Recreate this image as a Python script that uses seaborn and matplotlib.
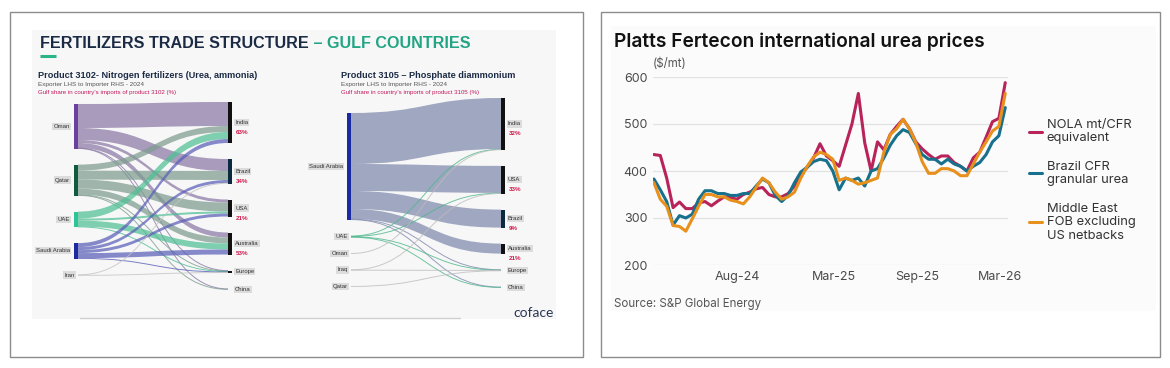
"""
Gulf fertilizer trade structure (Sankey) next to Platts urea price lines
"""

import numpy as np
import pandas as pd
import matplotlib.pyplot as plt
import seaborn as sns
from matplotlib.path import Path
from matplotlib.patches import PathPatch, Rectangle

# ---- product 3102: nitrogen fertilizers, exporter -> importer ----
n_sources = ['Oman', 'Qatar', 'UAE', 'Saudi Arabia', 'Iran']
n_targets = ['India', 'Brazil', 'USA', 'Australia', 'Europe', 'China']
n_shares = ['63%', '34%', '21%', '53%', '', '']
n_flow_src = ['Oman', 'Oman', 'Oman', 'Oman', 'Oman', 'Oman',
              'Qatar', 'Qatar', 'Qatar', 'Qatar', 'Qatar', 'Qatar',
              'UAE', 'UAE', 'UAE', 'UAE',
              'Saudi Arabia', 'Saudi Arabia', 'Saudi Arabia', 'Saudi Arabia', 'Saudi Arabia',
              'Iran', 'Iran']
n_flow_tgt = ['India', 'Brazil', 'USA', 'Australia', 'Europe', 'China',
              'India', 'Brazil', 'USA', 'Australia', 'Europe', 'China',
              'India', 'USA', 'Australia', 'Europe',
              'India', 'Brazil', 'USA', 'Australia', 'Europe',
              'Brazil', 'Europe']
n_flow_val = [24, 12, 3, 5, 0.3, 0.3,
              6, 9, 9, 6, 0.5, 0.5,
              7, 2, 6, 0.5,
              4, 3, 3, 5, 0.5,
              0.5, 0.5]

# ---- product 3105: phosphate diammonium ----
p_sources = ['Saudi Arabia', 'UAE', 'Oman', 'Iraq', 'Qatar']
p_targets = ['India', 'USA', 'Brazil', 'Australia', 'Europe', 'China']
p_shares = ['32%', '33%', '9%', '21%', '', '']
p_flow_src = ['Saudi Arabia', 'Saudi Arabia', 'Saudi Arabia', 'Saudi Arabia', 'Saudi Arabia', 'Saudi Arabia',
              'UAE', 'UAE', 'UAE', 'UAE', 'Oman', 'Iraq', 'Iraq', 'Qatar']
p_flow_tgt = ['India', 'USA', 'Brazil', 'Australia', 'Europe', 'China',
              'India', 'USA', 'Europe', 'China', 'India', 'USA', 'Europe', 'Europe']
p_flow_val = [51, 27, 18, 10, 0.4, 0.4,
              0.5, 0.4, 0.3, 0.3, 0.4, 0.3, 0.3, 0.3]

# ---- Platts Fertecon urea prices ($/mt), fortnightly ----
price_dates = pd.date_range('2024-02-01', periods=56, freq='14D')
nola = [435, 433, 385, 322, 334, 320, 320, 332, 335, 326,
        336, 345, 343, 340, 350, 355, 362, 365, 350, 345,
        345, 352, 368, 392, 408, 428, 458, 432, 422, 410,
        455, 500, 565, 460, 400, 462, 445, 478, 495, 510,
        490, 462, 447, 435, 425, 432, 432, 418, 410, 400,
        428, 440, 472, 505, 512, 588]
brazil = [383, 360, 335, 285, 305, 300, 308, 340, 358, 358,
          352, 352, 348, 348, 352, 352, 368, 383, 375, 348,
          335, 348, 375, 398, 408, 420, 425, 422, 400, 360,
          385, 380, 385, 368, 400, 405, 428, 455, 475, 488,
          482, 458, 435, 425, 425, 415, 425, 415, 410, 400,
          410, 418, 435, 462, 475, 535]
mideast = [375, 340, 325, 284, 282, 272, 298, 325, 350, 350,
           345, 345, 338, 335, 330, 345, 365, 385, 375, 355,
           340, 345, 355, 385, 410, 430, 440, 435, 425, 380,
           385, 380, 372, 375, 380, 385, 440, 478, 490, 510,
           490, 460, 420, 395, 395, 405, 405, 400, 390, 390,
           415, 440, 462, 485, 495, 565]
series_names = ['NOLA mt/CFR\nequivalent', 'Brazil CFR\ngranular urea',
                'Middle East\nFOB excluding\nUS netbacks']
tick_dates = pd.to_datetime(['2024-08-01', '2025-03-01', '2025-09-01', '2026-03-01'])
tick_labels = ['Aug-24', 'Mar-25', 'Sep-25', 'Mar-26']

W, H = 1170, 368
SLIDE_FONT = 'Liberation Sans'


def draw_sankey(ax, sources, targets, shares, src, tgt, val, x0, x1, top0, top1,
                src_colors, link_colors, tgt_colors, gap=16, bar_w=4):
    out_tot = [sum(v for s, v in zip(src, val) if s == n) for n in sources]
    in_tot = [sum(v for t, v in zip(tgt, val) if t == n) for n in targets]

    def stack(totals, top):
        ys, y = [], top
        for h in totals:
            ys.append(y)
            y += h + gap
        return ys

    y_src = dict(zip(sources, stack(out_tot, top0)))
    y_tgt = dict(zip(targets, stack(in_tot, top1)))
    off_src, off_tgt = dict(y_src), dict(y_tgt)
    idx = range(len(val))
    ys_link, yt_link = {}, {}
    for k in sorted(idx, key=lambda k: (sources.index(src[k]), targets.index(tgt[k]))):
        ys_link[k] = off_src[src[k]]
        off_src[src[k]] += val[k]
    for k in sorted(idx, key=lambda k: (targets.index(tgt[k]), sources.index(src[k]))):
        yt_link[k] = off_tgt[tgt[k]]
        off_tgt[tgt[k]] += val[k]

    xm = (x0 + x1) / 2
    for k in idx:
        v, ys, yt = val[k], ys_link[k], yt_link[k]
        col = link_colors.get(src[k], '#bdbdbd')
        if v < 1.5:
            verts = [(x0, ys + v / 2), (xm, ys + v / 2), (xm, yt + v / 2), (x1, yt + v / 2)]
            path = Path(verts, [Path.MOVETO, Path.CURVE4, Path.CURVE4, Path.CURVE4])
            ax.add_patch(PathPatch(path, fc='none', ec=col, lw=0.7, alpha=0.8))
        else:
            verts = [(x0, ys), (xm, ys), (xm, yt), (x1, yt), (x1, yt + v),
                     (xm, yt + v), (xm, ys + v), (x0, ys + v), (x0, ys)]
            codes = [Path.MOVETO, Path.CURVE4, Path.CURVE4, Path.CURVE4, Path.LINETO,
                     Path.CURVE4, Path.CURVE4, Path.CURVE4, Path.CLOSEPOLY]
            ax.add_patch(PathPatch(Path(verts, codes), fc=col, ec='none', alpha=0.72))

    lbl = dict(fontsize=4.3, color='#333333', family=SLIDE_FONT, va='center',
               bbox=dict(fc='#dcdcdc', ec='none', pad=0.8))
    for n, h in zip(sources, out_tot):
        yc = y_src[n] + h / 2
        has_bar = h >= 2
        if has_bar:
            ax.add_patch(Rectangle((x0 - bar_w, y_src[n]), bar_w, h, fc=src_colors[n], ec='none'))
        ax.text(x0 - (bar_w + 4 if has_bar else 3), yc, n, ha='right', **lbl)
    for n, h, sh in zip(targets, in_tot, shares):
        yc = y_tgt[n] + h / 2
        if h >= 2:
            ax.add_patch(Rectangle((x1, y_tgt[n]), bar_w, h, fc=tgt_colors.get(n, '#111111'), ec='none'))
        ax.text(x1 + bar_w + 3, yc, n, ha='left', **lbl)
        if sh:
            ax.text(x1 + bar_w + 4, yc + 10, sh, ha='left', va='center', fontsize=4.5,
                    color='#d0184c', weight='bold', family=SLIDE_FONT)


sns.set_theme(style='white')
plt.rcParams['font.family'] = ['Inter', 'DejaVu Sans']

fig = plt.figure(figsize=(W / 100, H / 100), dpi=100)
bg = fig.add_axes([0, 0, 1, 1])
bg.set_xlim(0, W)
bg.set_ylim(H, 0)
bg.axis('off')

# panel frames
bg.add_patch(Rectangle((10, 12), 573, 345, fc='white', ec='#8c8c8c', lw=1.0))
bg.add_patch(Rectangle((601, 12), 559, 345, fc='white', ec='#8c8c8c', lw=1.0))

# ---- left slide ----
bg.add_patch(Rectangle((32, 30), 524, 289, fc='#f7f7f7', ec='none'))
bg.plot([80, 460], [318, 318], color='#cfcfcf', lw=1.0)
t1 = bg.text(40, 43, 'FERTILIZERS TRADE STRUCTURE', fontsize=11.6, weight='bold',
             color='#1c2b45', va='center', family=SLIDE_FONT)
bg.annotate(' \u2013 GULF COUNTRIES', xy=(1, 0), xycoords=t1, va='bottom', ha='left',
            fontsize=11.6, weight='bold', color='#22a584', family=SLIDE_FONT)
bg.plot([40, 56], [56, 56], color='#2bb38a', lw=2.2, solid_capstyle='butt')

for x, head, sub, share in [(38, 'Product 3102- Nitrogen fertilizers (Urea, ammonia)', 'Exporter LHS to Importer RHS - 2024',
                             "Gulf share in country's imports of product 3102 (%)"),
                            (341, 'Product 3105 \u2013 Phosphate diammonium', 'Exporter LHS to Importer RHS - 2024',
                             "Gulf share in country's imports of product 3105 (%)")]:
    bg.text(x, 75, head, fontsize=6.6, weight='bold', color='#1c2b45', va='center', family=SLIDE_FONT)
    bg.text(x, 84.5, sub, fontsize=4.6, color='#555555', va='center', family=SLIDE_FONT)
    bg.text(x, 92.5, share, fontsize=4.4, color='#c2185b', va='center', family=SLIDE_FONT)

draw_sankey(bg, n_sources, n_targets, n_shares, n_flow_src, n_flow_tgt, n_flow_val,
            x0=78, x1=228, top0=104, top1=102,
            src_colors={'Oman': '#6b3fa0', 'Qatar': '#0e5b3f', 'UAE': '#2ec497', 'Saudi Arabia': '#1b2aa0'},
            link_colors={'Oman': '#8a78a6', 'Qatar': '#7d9c8e', 'UAE': '#4fbf95',
                         'Saudi Arabia': '#5a5fb8', 'Iran': '#c4c4c4'},
            tgt_colors={'Brazil': '#0b2a40'})
draw_sankey(bg, p_sources, p_targets, p_shares, p_flow_src, p_flow_tgt, p_flow_val,
            x0=351, x1=501, top0=113, top1=98,
            src_colors={'Saudi Arabia': '#1b2aa0'},
            link_colors={'Saudi Arabia': '#7f88ad', 'UAE': '#4db88c'},
            tgt_colors={'Brazil': '#0b2a40'})
bg.text(534, 313, 'coface', fontsize=10, color='#2a3656', ha='center', va='center',
        family='Lato')

# ---- right panel: urea prices ----
bg.add_patch(Rectangle((611, 26), 545, 285, fc='#fbfbfb', ec='none'))
bg.text(614, 42, 'Platts Fertecon international urea prices', fontsize=13.8,
        weight='semibold', color='#111111', va='center')
bg.text(653, 64, '($/mt)', fontsize=8.3, color='#555555', va='center')
bg.text(614, 304, 'Source: S&P Global Energy', fontsize=8.3, color='#555555', va='center')

prices = pd.DataFrame({
    'date': np.tile(price_dates, 3),
    'price': nola + brazil + mideast,
    'series': np.repeat(series_names, len(price_dates)),
})
palette = dict(zip(series_names, ['#b8235a', '#17708c', '#e8901c']))

ax = fig.add_axes([653 / W, 1 - 265 / H, 355 / W, 188 / H])
ax.set_facecolor('none')
sns.lineplot(data=prices, x='date', y='price', hue='series', palette=palette,
             linewidth=2.2, ax=ax)
ax.set_xlim(price_dates[0] - pd.Timedelta(days=2), price_dates[-1] + pd.Timedelta(days=6))
ax.set_ylim(200, 600)
ax.set_yticks([200, 300, 400, 500, 600])
ax.set_xticks(tick_dates)
ax.set_xticklabels(tick_labels)
ax.set_xlabel('')
ax.set_ylabel('')
ax.grid(axis='y', color='#e2e2e2', lw=0.9)
ax.grid(axis='x', visible=False)
sns.despine(ax=ax, left=True, bottom=True)
ax.tick_params(axis='both', length=0, labelsize=9, colors='#4a4a4a')
ax.tick_params(axis='y', pad=4)
ax.tick_params(axis='x', pad=4)

handles, labels = ax.get_legend_handles_labels()
ax.legend(handles, labels, loc='upper left', bbox_to_anchor=(1017 / W, 1 - 107 / H),
          bbox_transform=fig.transFigure, frameon=False, fontsize=9.3,
          handlelength=1.0, handletextpad=0.4, labelspacing=1.25, labelcolor='#333333')

fig.savefig('out.png', dpi=100)
